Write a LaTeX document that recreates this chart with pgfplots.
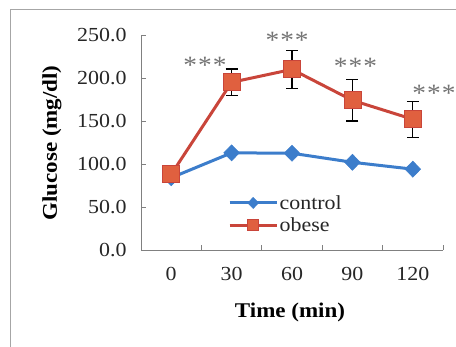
\documentclass[border=0pt]{standalone}
\usepackage{pgfplots}
\pgfplotsset{compat=1.18}
\usepackage{fontspec}
\setmainfont{Liberation Serif}[FakeStretch=1.1]
\definecolor{ctrl}{HTML}{3C7DCB}
\definecolor{obl}{HTML}{C9453A}
\definecolor{obf}{HTML}{E0603F}
\begin{document}
\begin{tikzpicture}[x=1bp,y=1bp]
\useasboundingbox (0,0) rectangle (456,346);
\draw[gray!70, line width=1bp] (10,-20) rectangle (480,336);
\begin{axis}[
  at={(141bp,96bp)}, anchor=south west,
  scale only axis, width=302bp, height=215bp,
  xmin=-0.5, xmax=4.5, ymin=0, ymax=250,
  clip=false,
  axis x line*=bottom, axis y line*=left,
  axis line style={-, gray, line width=0.8bp},
  tick align=inside, major tick length=5bp,
  tick style={gray, line width=0.8bp},
  xtick={0.5,1.5,2.5,3.5,4.5}, xticklabels={},
  extra x ticks={0,1,2,3,4},
  extra x tick labels={0,30,60,90,120},
  extra x tick style={major tick length=0pt, xticklabel style={yshift=-14bp}},
  ytick={0,50,...,250},
  yticklabel style={xshift=-11bp},
  ticklabel style={font=\rmfamily\fontsize{20}{22}\selectfont, text=black!85},
  /pgf/number format/.cd, fixed, fixed zerofill, precision=1, assume math mode=true,
  /pgfplots/.cd,
  legend style={at={(0.288,0.167)}, anchor=west, draw=none, fill=none,
    font=\rmfamily\fontsize{20}{22}\selectfont, row sep=4bp, inner sep=0pt,
    nodes={inner sep=1.5bp, text=black!85}},
  legend cell align=left,
  legend image code/.code={\draw[mark repeat=2,mark phase=2,#1,mark size=5.5bp]
    plot coordinates {(0bp,0bp) (23.5bp,0bp) (47bp,0bp)};},
]
\addplot[color=ctrl, line width=3bp, mark=diamond*, mark size=8bp,
  mark options={fill=ctrl, draw=ctrl, line width=0.6bp, xscale=1.3}]
  coordinates {(0,84) (1,113) (2,112.5) (3,102) (4,94)};
\addlegendentry{control}
\addplot[color=obl, line width=3bp, mark=square*, mark size=8.5bp,
  mark options={fill=obf, draw=obl, line width=0.8bp},
  error bars/.cd, y dir=both, y explicit,
  error bar style={black, line width=1.3bp},
  error mark options={rotate=90, black, mark size=6bp, line width=1.3bp}]
  coordinates {(0,88) +- (0,0) (1,195) +- (0,15.5) (2,210) +- (0,22) (3,174) +- (0,24) (4,152) +- (0,21)};
\addlegendentry{obese}
\tikzset{stars/.style={text=black!55, font=\rmfamily\fontsize{25}{25}\selectfont, inner sep=0pt}}
\node[stars] at (axis cs:0.56,215) {*\hspace{1bp}*\hspace{1bp}*};
\node[stars] at (axis cs:1.92,244) {*\hspace{1bp}*\hspace{1bp}*};
\node[stars] at (axis cs:3.05,214) {*\hspace{1bp}*\hspace{1bp}*};
\node[stars] at (axis cs:4.35,182) {*\hspace{1bp}*\hspace{1bp}*};
\end{axis}
\node[rotate=90, font=\rmfamily\fontsize{21}{23}\selectfont\bfseries] at (52,203) {Glucose (mg/dl)};
\node[font=\rmfamily\fontsize{21}{23}\selectfont\bfseries] at (290,34) {Time (min)};
\end{tikzpicture}
\end{document}
